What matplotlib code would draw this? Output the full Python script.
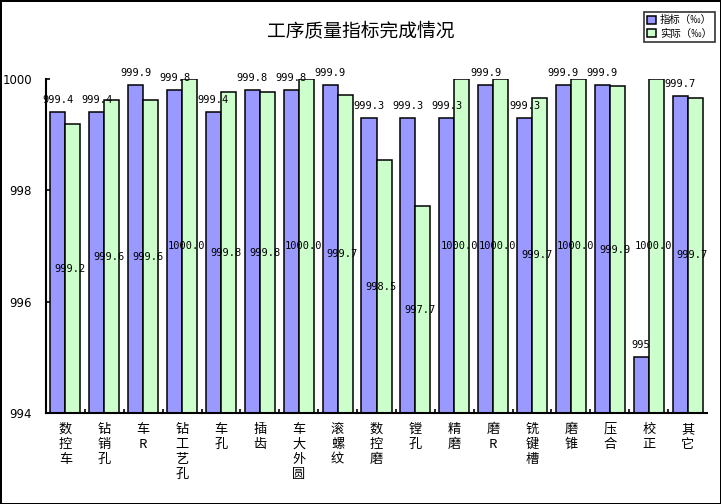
import matplotlib
matplotlib.use('Agg')
import matplotlib.pyplot as plt
import numpy as np

plt.rcParams['font.family'] = ['Noto Sans CJK SC', 'DejaVu Sans']

categories = ['数控车', '钻销孔', '车R', '钻工艺孔', '车孔', '插齿', '车大外圆', '滚螺纹',
              '数控磨', '镗孔', '精磨', '磨R', '铣键槽', '磨锥', '压合', '校正', '其它']
target = [999.4, 999.4, 999.9, 999.8, 999.4, 999.8, 999.8, 999.9, 999.3,
          999.3, 999.3, 999.9, 999.3, 999.9, 999.9, 995, 999.7]
actual = [999.19, 999.62, 999.62, 1000.0, 999.76, 999.76, 1000.0, 999.72, 998.54,
          997.71, 1000.0, 1000.0, 999.66, 1000.0, 999.87, 1000.0, 999.66]
series_names = ['指标（‰）', '实际（‰）']
y_ticks = [994, 996, 998, 1000]


def plot_quality():
    fig = plt.figure(figsize=(7.21, 5.04), dpi=100)
    fig.patch.set_edgecolor('black')
    fig.patch.set_linewidth(2)
    ax = fig.add_axes([0.0638, 0.1806, 0.9168, 0.6627])

    x = np.arange(len(categories))
    w = 0.386
    b1 = ax.bar(x - w, target, w, align='edge', color='#9999FF',
                edgecolor='black', linewidth=1.1, label=series_names[0])
    b2 = ax.bar(x, actual, w, align='edge', color='#CCFFCC',
                edgecolor='black', linewidth=1.1, label=series_names[1])

    ax.set_ylim(y_ticks[0], y_ticks[-1])
    ax.set_xlim(-0.5, len(categories) - 0.5)
    floor = y_ticks[0]

    for xi, v in zip(x, target):
        ax.annotate(f'{v:g}', (xi - w / 2, v), xytext=(0, 5),
                    textcoords='offset points', ha='center', va='bottom',
                    family='DejaVu Sans Mono', fontsize=7.5, clip_on=False)
    for xi, v in zip(x, actual):
        ax.annotate(f'{v:.1f}', (xi + w / 2, (floor + v) / 2), xytext=(-2, 0),
                    textcoords='offset points', ha='center', va='center',
                    family='DejaVu Sans Mono', fontsize=7.5)

    ax.set_yticks(y_ticks)
    ax.set_yticklabels([str(t) for t in y_ticks], family='DejaVu Sans', fontsize=8.5)
    ax.tick_params(axis='y', direction='in', length=3, width=1.2, pad=10)

    ax.set_xticks(x)
    ax.set_xticklabels(['\n'.join(c) for c in categories], fontsize=9.5,
                       va='top', linespacing=1.22)
    ax.set_xticks(x[:-1] + 0.5, minor=True)
    ax.tick_params(axis='x', which='major', length=0, pad=7)
    ax.tick_params(axis='x', which='minor', direction='in', length=3, width=1.2)

    for side in ['top', 'right']:
        ax.spines[side].set_visible(False)
    for side in ['left', 'bottom']:
        ax.spines[side].set_linewidth(1.5)

    fig.text(0.5, 1 - 32 / 504, '工序质量指标完成情况', ha='center', va='center',
             fontsize=13.5)

    leg = fig.legend(handles=[b1, b2], loc='upper right',
                     bbox_to_anchor=(715 / 721, 1 - 12 / 504), fontsize=7.5,
                     frameon=True, fancybox=False, edgecolor='black',
                     handlelength=0.8, handleheight=0.8, handletextpad=0.4,
                     borderpad=0.3, labelspacing=0.35, borderaxespad=0)
    leg.get_frame().set_linewidth(1.2)

    fig.savefig('out.png', dpi=100)


if __name__ == '__main__':
    plot_quality()
